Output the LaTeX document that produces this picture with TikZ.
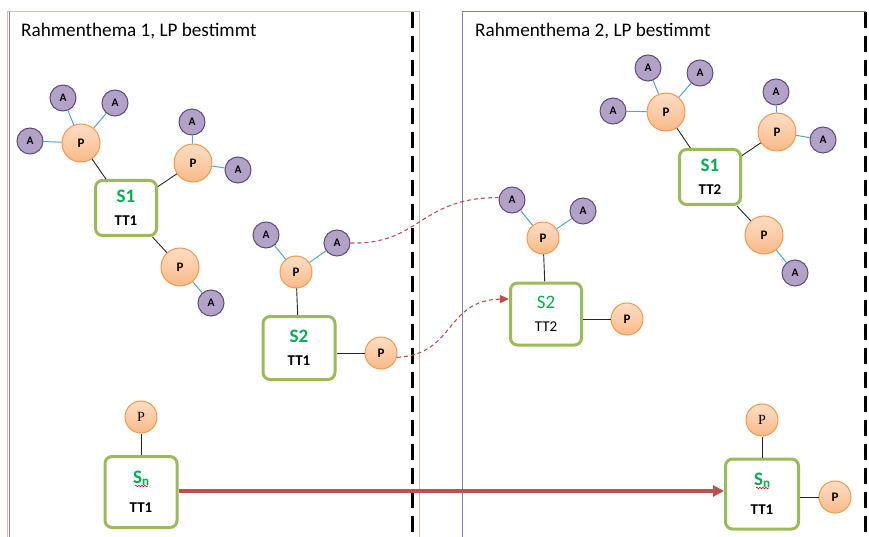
\documentclass[tikz,border=0pt]{standalone}
\usepackage{fontspec}
\setmainfont{Carlito}
\newfontfamily\serifp{Liberation Serif}
\usetikzlibrary{arrows.meta,decorations.pathmorphing,calc}
\definecolor{boxgreen}{HTML}{9BBB59}
\definecolor{txtgreen}{HTML}{00B050}
\definecolor{porange}{HTML}{F79646}
\definecolor{ptop}{HTML}{FDDEC6}
\definecolor{pbot}{HTML}{F9BA88}
\definecolor{afill}{HTML}{B3A2C7}
\definecolor{adark}{HTML}{604A7B}
\definecolor{linkblue}{HTML}{4BACC6}
\definecolor{arrred}{HTML}{C0504D}
\definecolor{beige}{HTML}{D9BBAA}
\definecolor{framepurple}{HTML}{8C7AB0}
\tikzset{
  pbig/.style={circle, draw=porange, line width=1pt, top color=ptop, bottom color=pbot,
    minimum size=38pt, inner sep=0pt, font=\fontsize{13}{13}\selectfont\bfseries},
  psmall/.style={pbig, minimum size=32pt},
  anode/.style={circle, draw=adark, line width=1pt, fill=afill, minimum size=26pt,
    inner sep=0pt, font=\fontsize{11.5}{11.5}\selectfont\bfseries},
  sbox/.style={rectangle, rounded corners=7pt, draw=boxgreen, line width=3pt, fill=white,
    align=center, inner sep=0pt, font=\fontsize{19}{23}\selectfont},
  palink/.style={draw=linkblue, line width=1pt},
  pslink/.style={draw=black!85, line width=0.9pt},
  vdash/.style={draw=black, line width=3pt, dash pattern=on 16pt off 8pt},
  redcurve/.style={draw=arrred, line width=1.1pt, dash pattern=on 4pt off 3pt},
  title/.style={anchor=base west, inner sep=0pt, font=\fontsize{19.2}{22}\selectfont},
  wavy/.style={draw=red, line width=0.6pt, decorate, decoration={snake, amplitude=0.8pt, segment length=3pt}},
}
\newcommand{\stl}[1]{\textcolor{txtgreen}{\bfseries #1}}
\newcommand{\ttl}[1]{{\fontsize{15}{23}\selectfont\bfseries #1}}
\newcommand{\stlr}[1]{\textcolor{txtgreen}{#1}}
\newcommand{\ttlr}[1]{{\fontsize{15}{23}\selectfont #1}}
\begin{document}
\begin{tikzpicture}[x=1pt,y=-1pt]
\useasboundingbox (0,0) rectangle (869,537);
% frames
\draw[beige, line width=1pt] (7.5,537) -- (7.5,12) -- (419,12) -- (419,537);
\draw[framepurple, line width=1pt] (9.5,12) -- (9.5,537);
\draw[framepurple, line width=1pt] (462,537) -- (462,12) -- (866,12);
\draw[vdash] (412.5,12) -- (412.5,537);
\draw[vdash] (865.5,12) -- (865.5,537);
% titles
\node[title] (T1) at (21,36.5) {Rahmenthema 1, LP bestimmt};
\node[title] (T2) at (475,36.5) {Rahmenthema 2, LP bestimmt};

% ---------- left panel ----------
\node[sbox, minimum width=61pt, minimum height=55pt] (S1L) at (126,208) {\stl{S1}\\\ttl{TT1}};
\node[pbig] (P1L) at (81,143) {P};
\node[anode] (A1La) at (63,98) {A};
\node[anode] (A1Lb) at (115,103) {A};
\node[anode] (A1Lc) at (30,141) {A};
\node[pbig] (P2L) at (193,163) {P};
\node[anode] (A2La) at (192,122) {A};
\node[anode] (A2Lb) at (238,170) {A};
\node[pbig] (P3L) at (180,267) {P};
\node[anode] (A3La) at (211,303) {A};
\draw[palink] (P1L) -- (A1La);
\draw[palink] (P1L) -- (A1Lb);
\draw[palink] (P1L) -- (A1Lc);
\draw[palink] (P2L) -- (A2La);
\draw[palink] (P2L) -- (A2Lb);
\draw[palink] (P3L) -- (A3La);
\draw[pslink] (S1L) -- (P1L);
\draw[pslink] (S1L) -- (P2L);
\draw[pslink] (S1L) -- (P3L);

\node[sbox, minimum width=72pt, minimum height=63pt] (S2L) at (299,348) {\stl{S2}\\\ttl{TT1}};
\node[psmall] (P4L) at (296,272) {P};
\node[anode] (A4La) at (266,235) {A};
\node[anode] (A4Lb) at (337,243) {A};
\node[psmall] (P5L) at (381,353) {P};
\draw[palink] (P4L) -- (A4La);
\draw[palink] (P4L) -- (A4Lb);
\draw[pslink] (S2L) -- (P4L);
\draw[pslink] (S2L.east |- P5L) -- (P5L);

\node[sbox, minimum width=72pt, minimum height=71pt, font=\fontsize{19}{29}\selectfont] (SnL) at (141,492)
  {\stl{S\raisebox{-1.5pt}{\fontsize{13}{13}\selectfont n}}\\\ttl{TT1}};
\node[psmall, font=\fontsize{14}{14}\selectfont\serifp] (P6L) at (141,417) {P};
\draw[pslink] (SnL) -- (P6L);
\draw[wavy] ($(SnL.center)+(-6,-6)$) -- ++(13,0);

% ---------- right panel ----------
\node[sbox, minimum width=61pt, minimum height=55pt] (S1R) at (710,177) {\stl{S1}\\\ttl{TT2}};
\node[pbig] (P1R) at (666,112) {P};
\node[anode] (A1Ra) at (648,68) {A};
\node[anode] (A1Rb) at (700,73) {A};
\node[anode] (A1Rc) at (613,111) {A};
\node[pbig] (P2R) at (777,132) {P};
\node[anode] (A2Ra) at (776,92) {A};
\node[anode] (A2Rb) at (823,140) {A};
\node[pbig] (P3R) at (764,235) {P};
\node[anode] (A3Ra) at (795,273) {A};
\draw[palink] (P1R) -- (A1Ra);
\draw[palink] (P1R) -- (A1Rb);
\draw[palink] (P1R) -- (A1Rc);
\draw[palink] (P2R) -- (A2Ra);
\draw[palink] (P2R) -- (A2Rb);
\draw[palink] (P3R) -- (A3Ra);
\draw[pslink] (S1R) -- (P1R);
\draw[pslink] (S1R) -- (P2R);
\draw[pslink] (S1R) -- (P3R);

\node[sbox, minimum width=71pt, minimum height=62pt] (S2R) at (546,314) {\stlr{S2}\\\ttlr{TT2}};
\node[psmall] (P4R) at (543,238) {P};
\node[anode] (A4Ra) at (512,200) {A};
\node[anode] (A4Rb) at (583,211) {A};
\node[psmall] (P5R) at (627,319) {P};
\draw[palink] (P4R) -- (A4Ra);
\draw[palink] (P4R) -- (A4Rb);
\draw[pslink] (S2R) -- (P4R);
\draw[pslink] (S2R.east |- P5R) -- (P5R);

\node[sbox, minimum width=73pt, minimum height=70pt, font=\fontsize{19}{29}\selectfont] (SnR) at (762,494)
  {\stl{S\raisebox{-1.5pt}{\fontsize{13}{13}\selectfont n}}\\\ttl{TT1}};
\node[psmall, font=\fontsize{14}{14}\selectfont\serifp] (P6R) at (762,420) {P};
\node[psmall] (P7R) at (835,497) {P};
\draw[pslink] (SnR) -- (P6R);
\draw[pslink] (SnR.east |- P7R) -- (P7R);
\draw[wavy] ($(SnR.center)+(-6,-6)$) -- ++(13,0);

% ---------- connections between panels ----------
\draw[redcurve] (A4Lb.east) .. controls (420,245) and (420,197) .. (A4Ra.170);
\draw[redcurve, -{Triangle[length=9pt,width=8pt]}] (P5L.-15) .. controls (455,355) and (445,300) .. (S2R.west |- 0,299);
\draw[draw=arrred, line width=3.5pt, -{Triangle[length=11pt,width=11pt]}] (SnL.east |- 0,491) -- (SnR.west |- 0,491);
\end{tikzpicture}
\end{document}
